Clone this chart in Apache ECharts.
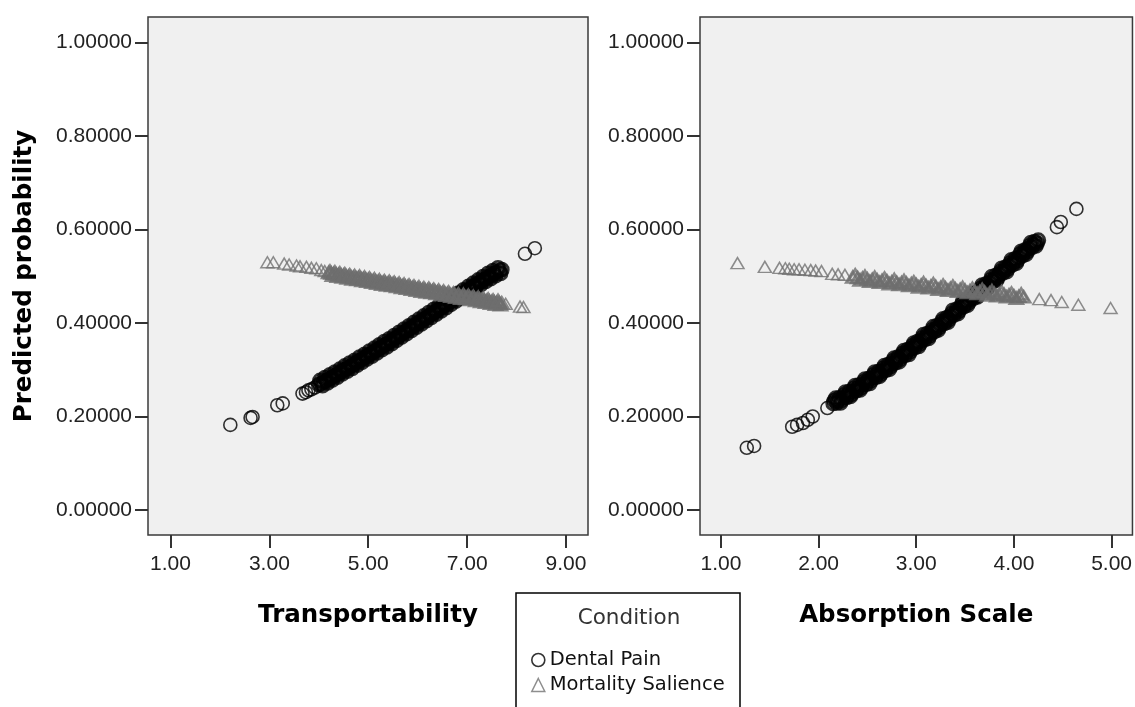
<!DOCTYPE html>
<html>
<head>
<meta charset="utf-8">
<title>Predicted probability</title>
<script src="https://cdn.jsdelivr.net/npm/echarts@6/dist/echarts.min.js"></script>
<style>
    html, body { margin: 0; padding: 0; background: #fff; }
    #report { width: 1135px; height: 707px; }
</style>
</head>
<body>
<div id="report"></div>
<script>
// 刻度
var probTicks = [0, 0.2, 0.4, 0.6, 0.8, 1.0];
var transportTicks = [1, 3, 5, 7, 9];
var absorptionTicks = [1, 2, 3, 4, 5];

// 左图 Transportability - Dental Pain (分散点 / 密集带)
var transportDental = [
    [2.21,.182],[2.62,.197],[2.66,.199],[3.16,.224],[3.27,.228],[3.67,.249],[3.74,.252],[3.79,.256],[3.85,.258],[3.92,.262],
    [8.17,.548],[8.37,.560]
];
var transportDentalBand = [
    [4.00,.268],[4.05,.271],[4.10,.274],[4.15,.277],[4.20,.280],[4.25,.283],[4.30,.286],[4.35,.289],[4.40,.292],[4.45,.296],
    [4.50,.299],[4.55,.302],[4.60,.305],[4.65,.308],[4.70,.311],[4.75,.315],[4.80,.318],[4.85,.321],[4.90,.324],[4.95,.328],
    [5.00,.331],[5.05,.334],[5.10,.337],[5.15,.341],[5.20,.344],[5.25,.348],[5.30,.351],[5.35,.354],[5.40,.357],[5.45,.361],
    [5.50,.364],[5.55,.368],[5.60,.371],[5.65,.375],[5.70,.378],[5.75,.382],[5.80,.385],[5.85,.389],[5.90,.392],[5.95,.396],
    [6.00,.399],[6.05,.403],[6.10,.406],[6.15,.410],[6.20,.413],[6.25,.417],[6.30,.420],[6.35,.424],[6.40,.427],[6.45,.431],
    [6.50,.434],[6.55,.438],[6.60,.441],[6.65,.445],[6.70,.448],[6.75,.452],[6.80,.455],[6.85,.459],[6.90,.462],[6.95,.466],
    [7.00,.469],[7.05,.473],[7.10,.476],[7.15,.480],[7.20,.483],[7.25,.487],[7.30,.490],[7.35,.494],[7.40,.497],[7.45,.500],
    [7.50,.503],[7.55,.506],[7.60,.509],[7.65,.512],[7.70,.514],
    [4.025,.277],[4.075,.266],[4.125,.283],[4.175,.272],[4.225,.289],[4.275,.278],[4.325,.295],[4.375,.284],[4.425,.301],[4.475,.291],
    [4.525,.308],[4.575,.297],[4.625,.314],[4.675,.303],[4.725,.320],[4.775,.310],[4.825,.327],[4.875,.316],[4.925,.333],[4.975,.323],
    [5.025,.340],[5.075,.329],[5.125,.346],[5.175,.336],[5.225,.353],[5.275,.343],[5.325,.360],[5.375,.349],[5.425,.366],[5.475,.356],
    [5.525,.373],[5.575,.363],[5.625,.380],[5.675,.370],[5.725,.387],[5.775,.377],[5.825,.394],[5.875,.384],[5.925,.401],[5.975,.391],
    [6.025,.408],[6.075,.398],[6.125,.415],[6.175,.405],[6.225,.422],[6.275,.412],[6.325,.429],[6.375,.419],[6.425,.436],[6.475,.426],
    [6.525,.443],[6.575,.433],[6.625,.450],[6.675,.440],[6.725,.457],[6.775,.447],[6.825,.464],[6.875,.454],[6.925,.471],[6.975,.461],
    [7.025,.478],[7.075,.468],[7.125,.485],[7.175,.475],[7.225,.492],[7.275,.482],[7.325,.499],[7.375,.489],[7.425,.506],[7.475,.495],
    [7.525,.512],[7.575,.501],[7.625,.518],[7.675,.506]
];
// 左图 Transportability - Mortality Salience
var transportMortality = [
    [2.96,.530],[3.08,.530],[3.30,.527],[3.40,.525],[3.55,.523],[3.62,.521],[3.75,.520],[3.85,.518],[3.95,.517],[4.05,.513],[4.12,.511],
    [7.78,.441],[8.07,.435],[8.14,.434]
];
var transportMortalityBand = [
    [4.20,.508],[4.25,.507],[4.30,.506],[4.35,.505],[4.40,.504],[4.45,.503],[4.50,.502],[4.55,.501],[4.60,.500],[4.65,.499],
    [4.70,.498],[4.75,.497],[4.80,.497],[4.85,.496],[4.90,.495],[4.95,.494],[5.00,.493],[5.05,.492],[5.10,.491],[5.15,.490],
    [5.20,.489],[5.25,.488],[5.30,.487],[5.35,.486],[5.40,.485],[5.45,.485],[5.50,.484],[5.55,.483],[5.60,.482],[5.65,.481],
    [5.70,.480],[5.75,.479],[5.80,.478],[5.85,.477],[5.90,.476],[5.95,.475],[6.00,.474],[6.05,.473],[6.10,.472],[6.15,.471],
    [6.20,.470],[6.25,.470],[6.30,.469],[6.35,.468],[6.40,.467],[6.45,.466],[6.50,.465],[6.55,.464],[6.60,.463],[6.65,.462],
    [6.70,.461],[6.75,.460],[6.80,.459],[6.85,.458],[6.90,.457],[6.95,.457],[7.00,.456],[7.05,.455],[7.10,.454],[7.15,.453],
    [7.20,.452],[7.25,.451],[7.30,.450],[7.35,.449],[7.40,.448],[7.45,.447],[7.50,.446],[7.55,.445],[7.60,.444],[7.65,.444],
    [7.70,.443],
    [4.225,.511],[4.275,.502],[4.325,.509],[4.375,.500],[4.425,.507],[4.475,.498],[4.525,.505],[4.575,.496],[4.625,.503],[4.675,.494],
    [4.725,.501],[4.775,.493],[4.825,.500],[4.875,.491],[4.925,.498],[4.975,.489],[5.025,.496],[5.075,.487],[5.125,.494],[5.175,.485],
    [5.225,.492],[5.275,.483],[5.325,.490],[5.375,.481],[5.425,.489],[5.475,.480],[5.525,.487],[5.575,.478],[5.625,.485],[5.675,.476],
    [5.725,.483],[5.775,.474],[5.825,.481],[5.875,.472],[5.925,.479],[5.975,.470],[6.025,.477],[6.075,.468],[6.125,.475],[6.175,.466],
    [6.225,.474],[6.275,.465],[6.325,.472],[6.375,.463],[6.425,.470],[6.475,.461],[6.525,.468],[6.575,.459],[6.625,.466],[6.675,.457],
    [6.725,.464],[6.775,.455],[6.825,.462],[6.875,.453],[6.925,.461],[6.975,.452],[7.025,.459],[7.075,.450],[7.125,.457],[7.175,.448],
    [7.225,.455],[7.275,.446],[7.325,.453],[7.375,.444],[7.425,.451],[7.475,.442],[7.525,.449],[7.575,.440],[7.625,.448],[7.675,.439]
];
// 右图 Absorption Scale - Dental Pain
var absorptionDental = [
    [1.265,.133],[1.34,.137],[1.73,.178],[1.78,.182],[1.84,.186],[1.89,.193],[1.94,.200],[2.09,.218],
    [4.44,.605],[4.48,.616],[4.64,.644]
];
var absorptionDentalBand = [
    [2.15,.228],[2.20,.234],[2.25,.240],[2.30,.247],[2.35,.254],[2.40,.261],[2.45,.268],[2.50,.275],[2.55,.283],[2.60,.290],
    [2.65,.297],[2.70,.305],[2.75,.313],[2.80,.321],[2.85,.329],[2.90,.337],[2.95,.345],[3.00,.354],[3.05,.362],[3.10,.371],
    [3.15,.379],[3.20,.388],[3.25,.397],[3.30,.405],[3.35,.414],[3.40,.423],[3.45,.432],[3.50,.441],[3.55,.450],[3.60,.459],
    [3.65,.468],[3.70,.477],[3.75,.486],[3.80,.495],[3.85,.504],[3.90,.513],[3.95,.522],[4.00,.531],[4.05,.540],[4.10,.550],
    [4.15,.559],[4.20,.568],[4.25,.577],
    [2.175,.239],[2.225,.229],[2.275,.252],[2.325,.243],[2.375,.266],[2.425,.257],[2.475,.280],[2.525,.271],[2.575,.295],[2.625,.286],
    [2.675,.309],[2.725,.301],[2.775,.325],[2.825,.317],[2.875,.341],[2.925,.333],[2.975,.357],[3.025,.350],[3.075,.375],[3.125,.367],
    [3.175,.392],[3.225,.385],[3.275,.409],[3.325,.402],[3.375,.427],[3.425,.420],[3.475,.445],[3.525,.438],[3.575,.463],[3.625,.456],
    [3.675,.481],[3.725,.474],[3.775,.499],[3.825,.492],[3.875,.517],[3.925,.510],[3.975,.535],[4.025,.528],[4.075,.553],[4.125,.547],
    [4.175,.572],[4.225,.565],
    [2.1625,.234],[2.1875,.229],[2.2125,.240],[2.2375,.235],[2.2625,.246],[2.2875,.241],[2.3125,.253],[2.3375,.248],[2.3625,.260],[2.3875,.255],
    [2.4125,.267],[2.4375,.262],[2.4625,.274],[2.4875,.269],[2.5125,.281],[2.5375,.277],[2.5625,.289],[2.5875,.284],[2.6125,.296],[2.6375,.291],
    [2.6625,.303],[2.6875,.299],[2.7125,.311],[2.7375,.307],[2.7625,.319],[2.7875,.315],[2.8125,.327],[2.8375,.323],[2.8625,.335],[2.8875,.331],
    [2.9125,.343],[2.9375,.339],[2.9625,.351],[2.9875,.348],[3.0125,.360],[3.0375,.356],[3.0625,.368],[3.0875,.365],[3.1125,.377],[3.1375,.373],
    [3.1625,.385],[3.1875,.382],[3.2125,.394],[3.2375,.391],[3.2625,.403],[3.2875,.399],[3.3125,.411],[3.3375,.408],[3.3625,.420],[3.3875,.417],
    [3.4125,.429],[3.4375,.426],[3.4625,.438],[3.4875,.435],[3.5125,.447],[3.5375,.444],[3.5625,.456],[3.5875,.453],[3.6125,.465],[3.6375,.462],
    [3.6625,.474],[3.6875,.471],[3.7125,.483],[3.7375,.480],[3.7625,.492],[3.7875,.489],[3.8125,.501],[3.8375,.498],[3.8625,.510],[3.8875,.507],
    [3.9125,.519],[3.9375,.516],[3.9625,.528],[3.9875,.525],[4.0125,.537],[4.0375,.534],[4.0625,.547],[4.0875,.544],[4.1125,.556],[4.1375,.553],
    [4.1625,.565],[4.1875,.562],[4.2125,.574],[4.2375,.571]
];
// 右图 Absorption Scale - Mortality Salience
var absorptionMortality = [
    [1.17,.528],[1.45,.520],[1.60,.518],[1.66,.517],[1.70,.516],[1.75,.515],[1.80,.515],[1.86,.514],[1.92,.513],[1.97,.512],
    [2.03,.511],[2.14,.505],[2.20,.504],[2.27,.503],
    [4.26,.451],[4.38,.449],[4.49,.445],[4.66,.439],[4.99,.432]
];
var absorptionMortalityBand = [
    [2.35,.498],[2.40,.497],[2.45,.496],[2.50,.494],[2.55,.493],[2.60,.492],[2.65,.491],[2.70,.490],[2.75,.488],[2.80,.487],
    [2.85,.486],[2.90,.485],[2.95,.484],[3.00,.482],[3.05,.481],[3.10,.480],[3.15,.479],[3.20,.478],[3.25,.476],[3.30,.475],
    [3.35,.474],[3.40,.473],[3.45,.472],[3.50,.470],[3.55,.469],[3.60,.468],[3.65,.467],[3.70,.466],[3.75,.464],[3.80,.463],
    [3.85,.462],[3.90,.461],[3.95,.460],[4.00,.458],[4.05,.457],[4.10,.456],
    [2.375,.503],[2.425,.492],[2.475,.500],[2.525,.489],[2.575,.498],[2.625,.487],[2.675,.496],[2.725,.484],[2.775,.493],[2.825,.482],
    [2.875,.491],[2.925,.480],[2.975,.488],[3.025,.477],[3.075,.486],[3.125,.475],[3.175,.484],[3.225,.472],[3.275,.481],[3.325,.470],
    [3.375,.479],[3.425,.468],[3.475,.476],[3.525,.465],[3.575,.474],[3.625,.463],[3.675,.472],[3.725,.460],[3.775,.469],[3.825,.458],
    [3.875,.467],[3.925,.456],[3.975,.464],[4.025,.453],[4.075,.462]
];

var FONT = "'Liberation Sans', Arial, sans-serif";
var LEGEND_FONT = "'DejaVu Sans', Verdana, sans-serif";
var BOLD_FONT = "'DejaVu Sans', Verdana, sans-serif";

var myChart = echarts.init(document.getElementById('report'));

function xAxisOf(idx, name, min, max, ticks) {
    return {
        type: 'value',
        gridIndex: idx,
        min: min,
        max: max,
        name: name,
        nameLocation: 'middle',
        nameGap: 68,
        nameTextStyle: { fontFamily: BOLD_FONT, fontWeight: 'bold', fontSize: 24.5, color: '#000' },
        axisLine: { show: false, onZero: false },
        splitLine: { show: false },
        axisTick: { show: true, length: 13, customValues: ticks, lineStyle: { color: '#333', width: 2 } },
        axisLabel: {
            customValues: ticks,
            margin: 19,
            fontFamily: FONT, fontSize: 21, color: '#222',
            formatter: function (v) { return v.toFixed(2); }
        }
    };
}

function yAxisOf(idx, name) {
    return {
        type: 'value',
        gridIndex: idx,
        min: -0.0535,
        max: 1.0545,
        name: name,
        nameLocation: 'middle',
        nameGap: 111,
        nameTextStyle: { fontFamily: BOLD_FONT, fontWeight: 'bold', fontSize: 24.5, color: '#000' },
        axisLine: { show: false, onZero: false },
        splitLine: { show: false },
        axisTick: { show: true, length: 13, customValues: probTicks, lineStyle: { color: '#333', width: 2 } },
        axisLabel: {
            customValues: probTicks,
            margin: 16,
            fontFamily: FONT, fontSize: 21, color: '#222',
            formatter: function (v) { return v.toFixed(5); }
        }
    };
}

var circleStyle = { color: 'transparent', borderColor: '#000', borderWidth: 1.6 };
var circleBandStyle = { color: 'transparent', borderColor: '#000', borderWidth: 2.8 };
var triStyle = { color: 'transparent', borderColor: '#727272', borderWidth: 1.5 };
var triBandStyle = { color: 'transparent', borderColor: '#6e6e6e', borderWidth: 2.6 };

function scatterOf(name, idx, symbol, size, style, data) {
    return {
        name: name, type: 'scatter',
        xAxisIndex: idx, yAxisIndex: idx,
        symbol: symbol, symbolSize: size,
        itemStyle: style, data: data,
        emphasis: { disabled: true }
    };
}

var option = {
    animation: false,
    backgroundColor: '#fff',
    grid: [
        { left: 148, top: 17, width: 440, height: 518, show: true, backgroundColor: '#f0f0f0', borderColor: '#3a3a3a', borderWidth: 1.5 },
        { left: 700, top: 17, width: 434, height: 518, show: true, backgroundColor: '#f0f0f0', borderColor: '#3a3a3a', borderWidth: 1.5 }
    ],
    xAxis: [
        xAxisOf(0, 'Transportability', 0.545, 9.445, transportTicks),
        xAxisOf(1, 'Absorption Scale', 0.786, 5.214, absorptionTicks)
    ],
    yAxis: [
        yAxisOf(0, 'Predicted probability'),
        yAxisOf(1, '')
    ],
    legend: {
        orient: 'vertical',
        left: 531,
        top: 650,
        padding: 0,
        itemGap: 5,
        itemWidth: 13,
        itemHeight: 13,
        z: 10,
        selectedMode: false,
        textStyle: { fontFamily: LEGEND_FONT, fontSize: 19.5, lineHeight: 20, color: '#111' },
        data: [
            { name: 'Dental Pain', icon: 'circle', itemStyle: circleStyle },
            { name: 'Mortality Salience', icon: 'triangle', itemStyle: triStyle }
        ]
    },
    graphic: [
        {
            type: 'rect', z: 0,
            shape: { x: 516, y: 593, width: 224, height: 140 },
            style: { fill: '#fff', stroke: '#000', lineWidth: 1.5 }
        },
        {
            type: 'text', z: 1,
            x: 629, y: 618,
            style: { text: 'Condition', fontFamily: LEGEND_FONT, fontSize: 21.5, fill: '#333', align: 'center', verticalAlign: 'middle' }
        }
    ],
    series: [
        scatterOf('Dental Pain', 0, 'circle', 13, circleStyle, transportDental),
        scatterOf('Dental Pain', 0, 'circle', 13, circleBandStyle, transportDentalBand),
        scatterOf('Mortality Salience', 0, 'triangle', [13, 11], triStyle, transportMortality),
        scatterOf('Mortality Salience', 0, 'triangle', [13, 11], triBandStyle, transportMortalityBand),
        scatterOf('Dental Pain', 1, 'circle', 13, circleStyle, absorptionDental),
        scatterOf('Dental Pain', 1, 'circle', 13, circleBandStyle, absorptionDentalBand),
        scatterOf('Mortality Salience', 1, 'triangle', [13, 11], triStyle, absorptionMortality),
        scatterOf('Mortality Salience', 1, 'triangle', [13, 11], triBandStyle, absorptionMortalityBand)
    ]
};

myChart.setOption(option);
</script>
</body>
</html>
